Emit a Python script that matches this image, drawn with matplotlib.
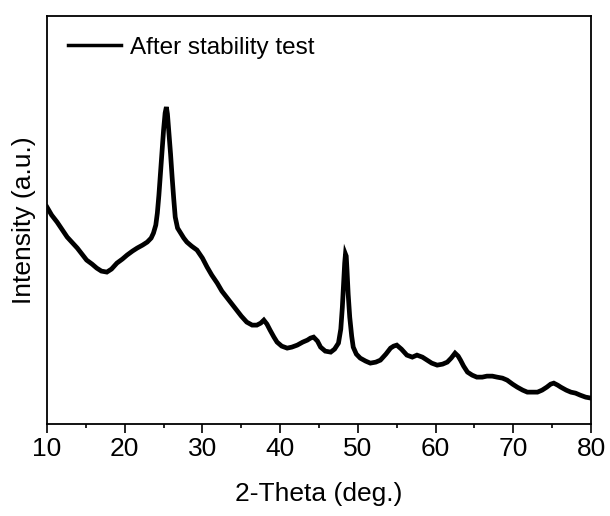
import matplotlib
matplotlib.use("Agg")
import matplotlib.pyplot as plt
from matplotlib.ticker import MultipleLocator

plt.rcParams["font.family"] = ["Liberation Sans", "DejaVu Sans"]

# 2-theta (deg) and intensity (a.u.)
two_theta = [
    10.0, 10.6, 11.3, 12.0, 12.6, 13.3, 13.9, 14.5, 15.1, 15.8, 16.4, 17.0,
    17.7, 18.3, 19.0, 19.7, 20.3, 21.0, 21.6, 22.3, 22.9, 23.4, 23.7, 24.0,
    24.2, 24.4, 24.6, 24.8, 25.0, 25.2, 25.36, 25.5, 25.66, 25.9, 26.1, 26.3,
    26.5, 26.8, 27.2, 27.6, 28.0, 28.6, 29.3, 30.0, 30.6, 31.2, 31.9, 32.5,
    33.2, 33.8, 34.4, 35.0, 35.7, 36.4, 37.0, 37.5, 37.9, 38.3, 38.7, 39.2,
    39.6, 40.2, 40.9, 41.5, 42.2, 42.9, 43.5, 43.9, 44.3, 44.8, 45.2, 45.8,
    46.5, 47.0, 47.5, 47.8, 48.0, 48.15, 48.3, 48.4, 48.5, 48.6, 48.75, 48.95,
    49.2, 49.4, 49.8, 50.3, 51.0, 51.6, 52.3, 52.9, 53.6, 54.2, 54.6, 55.0,
    55.6, 56.3, 57.0, 57.6, 58.3, 58.9, 59.5, 60.2, 60.9, 61.5, 62.0, 62.5,
    62.9, 63.2, 63.6, 64.1, 64.7, 65.3, 66.0, 66.6, 67.3, 67.9, 68.6, 69.2,
    69.9, 70.5, 71.2, 71.8, 72.5, 73.1, 73.7, 74.3, 74.8, 75.2, 75.7, 76.1,
    76.8, 77.4, 78.0, 78.6, 79.3, 80.0,
]
intensity = [
    217, 209, 202, 194, 187, 181, 176, 170, 164, 160, 156, 153,
    152, 155, 161, 165, 169, 173, 176, 179, 182, 186, 191, 199,
    211, 229, 251, 273, 294, 311, 317, 310, 294, 270, 247, 226,
    207, 196, 191, 186, 182, 178, 174, 166, 157, 149, 141, 133,
    126, 120, 114, 108, 102, 99, 99, 101, 104, 100, 94, 87,
    82, 78, 76, 77, 79, 82, 84, 86, 87, 83, 77, 73,
    72, 75, 81, 95, 117, 140, 161, 170, 168, 154, 130, 107,
    88, 77, 70, 66, 63, 61, 62, 64, 70, 76, 78, 79,
    75, 69, 67, 69, 67, 64, 61, 59, 60, 62, 66, 71,
    68, 64, 58, 52, 49, 47, 47, 48, 48, 47, 46, 44,
    40, 37, 34, 32, 32, 32, 34, 37, 40, 41, 39, 37,
    34, 32, 31, 29, 27, 26,
]

fig = plt.figure(figsize=(6.1, 5.16), dpi=100)
ax = fig.add_axes([0.077, 0.178, 0.892, 0.791])

ax.plot(two_theta, intensity, color="black", linewidth=3.4,
        solid_joinstyle="miter", label="After stability test")

ax.set_xlim(10, 80)
ax.set_ylim(0, 408)
ax.xaxis.set_major_locator(MultipleLocator(10))
ax.xaxis.set_minor_locator(MultipleLocator(5))
ax.tick_params(axis="x", which="major", direction="out", length=6.5, width=1.2,
               labelsize=19, pad=3, top=False)
ax.tick_params(axis="x", which="minor", direction="out", length=3, width=1.2,
               top=False)
ax.set_yticks([])
for s in ax.spines.values():
    s.set_linewidth(1.3)

ax.set_xlabel("2-Theta (deg.)", fontsize=19, labelpad=15)
ax.set_ylabel("Intensity (a.u.)", fontsize=19, labelpad=8)

leg = ax.legend(loc="upper left", frameon=False, fontsize=17.5, handlelength=2.2,
                handletextpad=0.35, borderaxespad=0.45)
for h in leg.get_lines():
    h.set_linewidth(2.5)

fig.savefig("out.png", dpi=100)
